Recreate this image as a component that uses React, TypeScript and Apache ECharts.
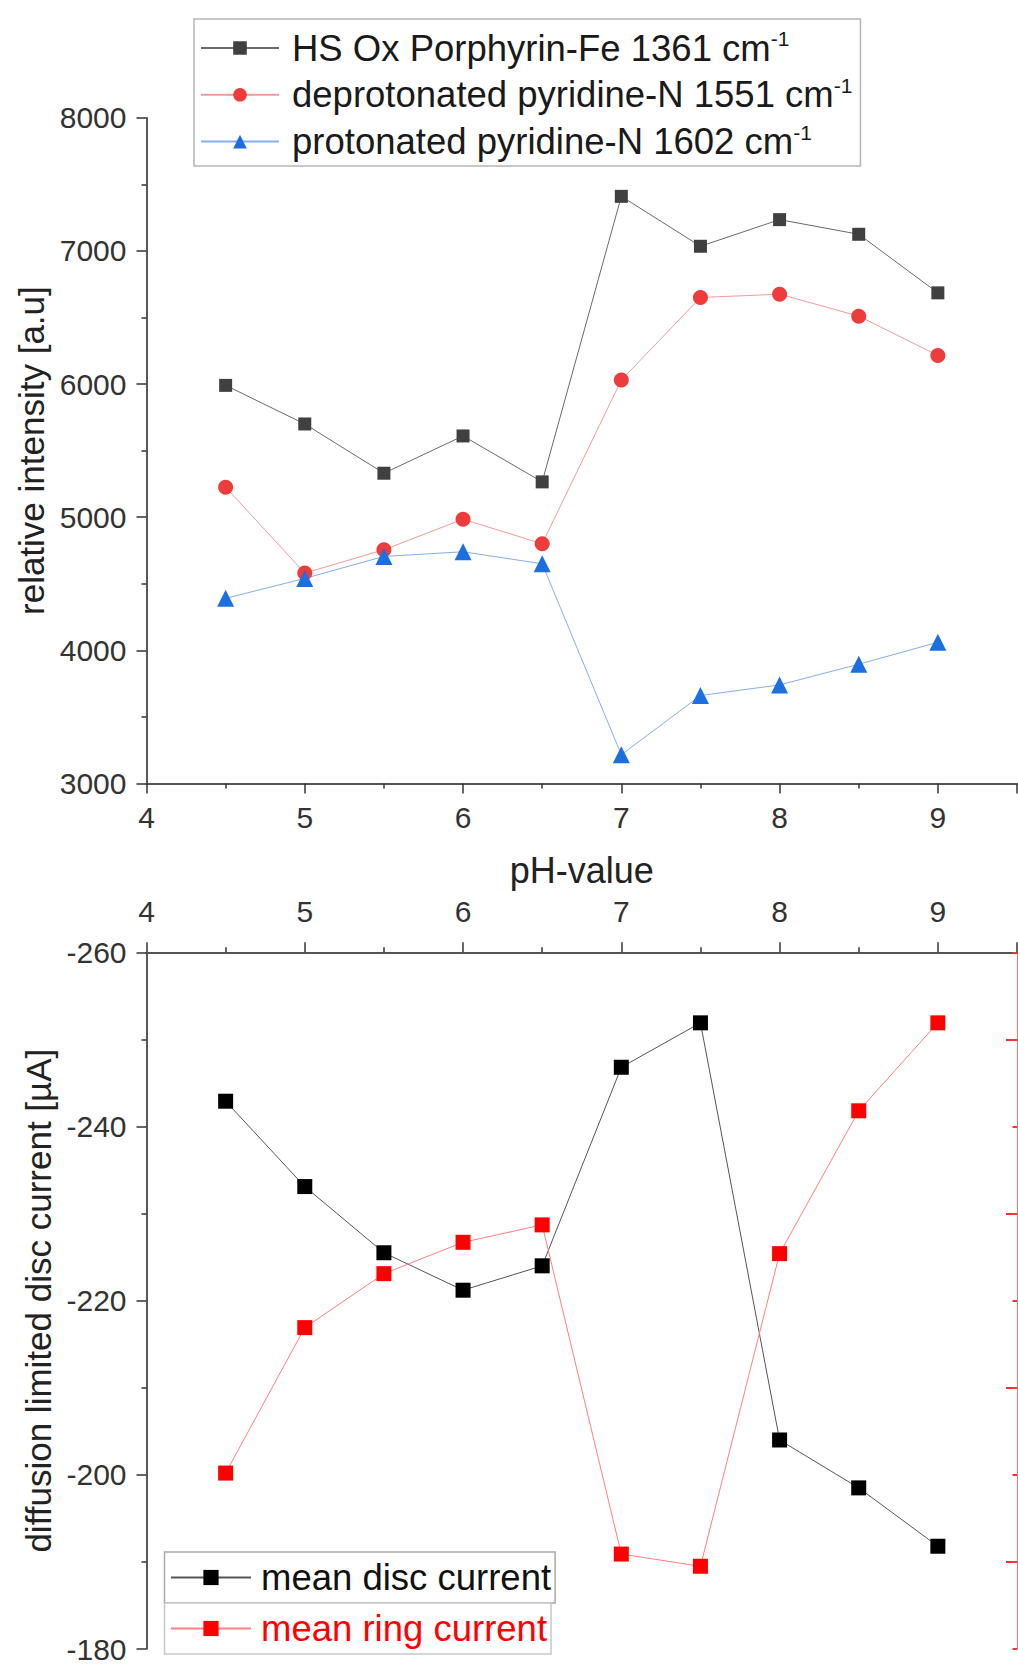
import React, { useEffect, useRef } from "react";
import * as echarts from "echarts";

// ---------- data ----------
const phValues = [4.5, 5, 5.5, 6, 6.5, 7, 7.5, 8, 8.5, 9];

const hsOxPorphyrinFe = [5990, 5700, 5330, 5610, 5265, 7410, 7035, 7235, 7125, 6685];
const deprotonatedPyridineN = [5225, 4580, 4755, 4985, 4800, 6030, 6650, 6675, 6510, 6215];
const protonatedPyridineN = [4390, 4540, 4705, 4740, 4650, 3215, 3660, 3740, 3895, 4060];

const meanDiscCurrent = [-242.9, -233.1, -225.5, -221.2, -224.0, -246.8, -251.9, -204.0, -198.5, -191.8];
const meanRingCurrent = [2.02, 3.69, 4.31, 4.67, 4.87, 1.09, 0.95, 4.54, 6.18, 7.19];

const seriesNamesTop = [
  "HS Ox Porphyrin-Fe 1361 cm",
  "deprotonated pyridine-N 1551 cm",
  "protonated pyridine-N 1602 cm",
];
const seriesNamesBottom = ["mean disc current", "mean ring current"];

const xRange = [4, 9.5];
const topYRange = [3000, 8000];
const discYRange = [-260, -180];
const ringYRange = [0, 8];

const FONT = "'Liberation Sans', Arial, Helvetica, sans-serif";

const pairs = (ys: number[]) => phValues.map((x, i) => [x, ys[i]]);

export default function App() {
  const ref = useRef<HTMLDivElement>(null);

  useEffect(() => {
    document.body.style.margin = "0";
    if (!ref.current) return;
    const chart = echarts.init(ref.current, null, { renderer: "svg" });

    const xLabelFmt = (v: number) => (Number.isInteger(v) ? String(v) : "");
    const plainFmt = (v: number) => String(v);

    const commonX = {
      type: "value",
      min: xRange[0],
      max: xRange[1],
      interval: 1,
      splitLine: { show: false },
      axisLine: { show: true, onZero: false, lineStyle: { color: "#555", width: 2 } },
      axisTick: { show: true, length: 10, lineStyle: { color: "#333", width: 1.5 } },
      minorTick: { show: true, splitNumber: 2, length: 5, lineStyle: { color: "#333", width: 1.5 } },
      axisLabel: {
        formatter: xLabelFmt,
        showMaxLabel: false,
        fontSize: 30,
        color: "#333",
        fontFamily: FONT,
      },
    };

    const option: any = {
      animation: false,
      backgroundColor: "#fff",
      grid: [
        { left: 146.5, top: 117.8, width: 870.5, height: 665.6, containLabel: false },
        { left: 146.5, top: 952.3, width: 870.5, height: 699.4, containLabel: false },
      ],
      xAxis: [
        {
          ...commonX,
          gridIndex: 0,
          position: "bottom",
          axisLabel: { ...commonX.axisLabel, margin: 19 },
          name: "pH-value",
          nameLocation: "middle",
          nameGap: 69,
          nameTextStyle: { fontSize: 36, color: "#222", fontFamily: FONT },
        },
        {
          ...commonX,
          gridIndex: 1,
          position: "top",
          axisLabel: { ...commonX.axisLabel, margin: 26 },
        },
      ],
      yAxis: [
        {
          type: "value",
          gridIndex: 0,
          min: topYRange[0],
          max: topYRange[1],
          interval: 1000,
          position: "left",
          splitLine: { show: false },
          axisLine: { show: true, onZero: false, lineStyle: { color: "#222", width: 1.5 } },
          axisTick: { show: true, length: 10, lineStyle: { color: "#333", width: 1.5 } },
          minorTick: { show: true, splitNumber: 2, length: 5, lineStyle: { color: "#333", width: 1.5 } },
          axisLabel: { formatter: plainFmt, fontSize: 30, color: "#333", margin: 20, fontFamily: FONT },
          name: "relative intensity [a.u]",
          nameLocation: "middle",
          nameGap: 94,
          nameTextStyle: { fontSize: 35, color: "#222", fontFamily: FONT },
        },
        {
          type: "value",
          gridIndex: 1,
          min: discYRange[0],
          max: discYRange[1],
          interval: 20,
          inverse: true,
          position: "left",
          splitLine: { show: false },
          axisLine: { show: true, onZero: false, lineStyle: { color: "#222", width: 1.5 } },
          axisTick: { show: true, length: 10, lineStyle: { color: "#333", width: 1.5 } },
          minorTick: { show: true, splitNumber: 2, length: 5, lineStyle: { color: "#333", width: 1.5 } },
          axisLabel: { formatter: plainFmt, fontSize: 30, color: "#333", margin: 20, fontFamily: FONT },
          name: "diffusion limited disc current [µA]",
          nameLocation: "middle",
          nameGap: 90,
          nameTextStyle: { fontSize: 35, color: "#222", fontFamily: FONT },
        },
        {
          type: "value",
          gridIndex: 1,
          min: ringYRange[0],
          max: ringYRange[1],
          interval: 2,
          position: "right",
          splitLine: { show: false },
          axisLine: { show: true, onZero: false, lineStyle: { color: "#ff7070", width: 1 } },
          axisTick: { show: true, inside: true, length: 4.5, lineStyle: { color: "#ff3030", width: 2 } },
          minorTick: { show: true, splitNumber: 2, length: 11, lineStyle: { color: "#ff3030", width: 2 } },
          axisLabel: { show: false },
        },
      ],
      legend: [
        {
          orient: "vertical",
          left: 194,
          top: 19,
          padding: [9, 8, 6, 6],
          itemWidth: 78,
          itemHeight: 17,
          itemGap: 8.3,
          borderColor: "#b5b5b5",
          borderWidth: 1.5,
          backgroundColor: "#fff",
          data: seriesNamesTop,
          formatter: (name: string) => `{t|${name}}{s|-1}`,
          textStyle: {
            rich: {
              t: { fontSize: 36.5, lineHeight: 40, color: "#1a1a1a", fontFamily: FONT, padding: [0, 0, 0, 8] },
              s: { fontSize: 21, lineHeight: 22, verticalAlign: "top", color: "#1a1a1a", fontFamily: FONT },
            },
          },
        },
        {
          orient: "vertical",
          left: 164.5,
          top: 1552,
          padding: [7, 4, 7, 5.5],
          itemWidth: 80,
          itemHeight: 19,
          borderColor: "#a8a8a8",
          borderWidth: 1.5,
          backgroundColor: "#fff",
          data: [seriesNamesBottom[0]],
          formatter: (name: string) => `{t|${name}}`,
          textStyle: {
            rich: {
              t: { fontSize: 36.5, lineHeight: 40, color: "#111", fontFamily: FONT, padding: [0, 0, 0, 5] },
            },
          },
        },
        {
          orient: "vertical",
          left: 164.5,
          top: 1603,
          padding: [7, 4, 7, 5.5],
          itemWidth: 80,
          itemHeight: 19,
          borderColor: "#c8c8c8",
          borderWidth: 1.5,
          backgroundColor: "#fff",
          data: [seriesNamesBottom[1]],
          formatter: (name: string) => `{t|${name}}`,
          textStyle: {
            rich: {
              t: { fontSize: 36.5, lineHeight: 40, color: "#ff0000", fontFamily: FONT, padding: [0, 0, 0, 5] },
            },
          },
        },
      ],
      series: [
        {
          name: seriesNamesTop[0],
          type: "line",
          xAxisIndex: 0,
          yAxisIndex: 0,
          data: pairs(hsOxPorphyrinFe),
          symbol: "rect",
          symbolSize: 13,
          itemStyle: { color: "#404040" },
          lineStyle: { color: "#6a6a6a", width: 1 },
        },
        {
          name: seriesNamesTop[1],
          type: "line",
          xAxisIndex: 0,
          yAxisIndex: 0,
          data: pairs(deprotonatedPyridineN),
          symbol: "circle",
          symbolSize: 15,
          itemStyle: { color: "#ee3b3b" },
          lineStyle: { color: "#f59a9a", width: 1 },
        },
        {
          name: seriesNamesTop[2],
          type: "line",
          xAxisIndex: 0,
          yAxisIndex: 0,
          data: pairs(protonatedPyridineN),
          symbol: "triangle",
          symbolSize: 17,
          itemStyle: { color: "#1c6fe0" },
          lineStyle: { color: "#86adf0", width: 1 },
        },
        {
          name: seriesNamesBottom[0],
          type: "line",
          xAxisIndex: 1,
          yAxisIndex: 1,
          data: pairs(meanDiscCurrent),
          symbol: "rect",
          symbolSize: 15,
          itemStyle: { color: "#000" },
          lineStyle: { color: "#555", width: 1 },
        },
        {
          name: seriesNamesBottom[1],
          type: "line",
          xAxisIndex: 1,
          yAxisIndex: 2,
          data: pairs(meanRingCurrent),
          symbol: "rect",
          symbolSize: 15,
          itemStyle: { color: "#ff0000" },
          lineStyle: { color: "#ff8080", width: 1 },
        },
      ],
    };

    chart.setOption(option);
    return () => chart.dispose();
  }, []);

  return <div ref={ref} style={{ width: 1018, height: 1664 }} />;
}
